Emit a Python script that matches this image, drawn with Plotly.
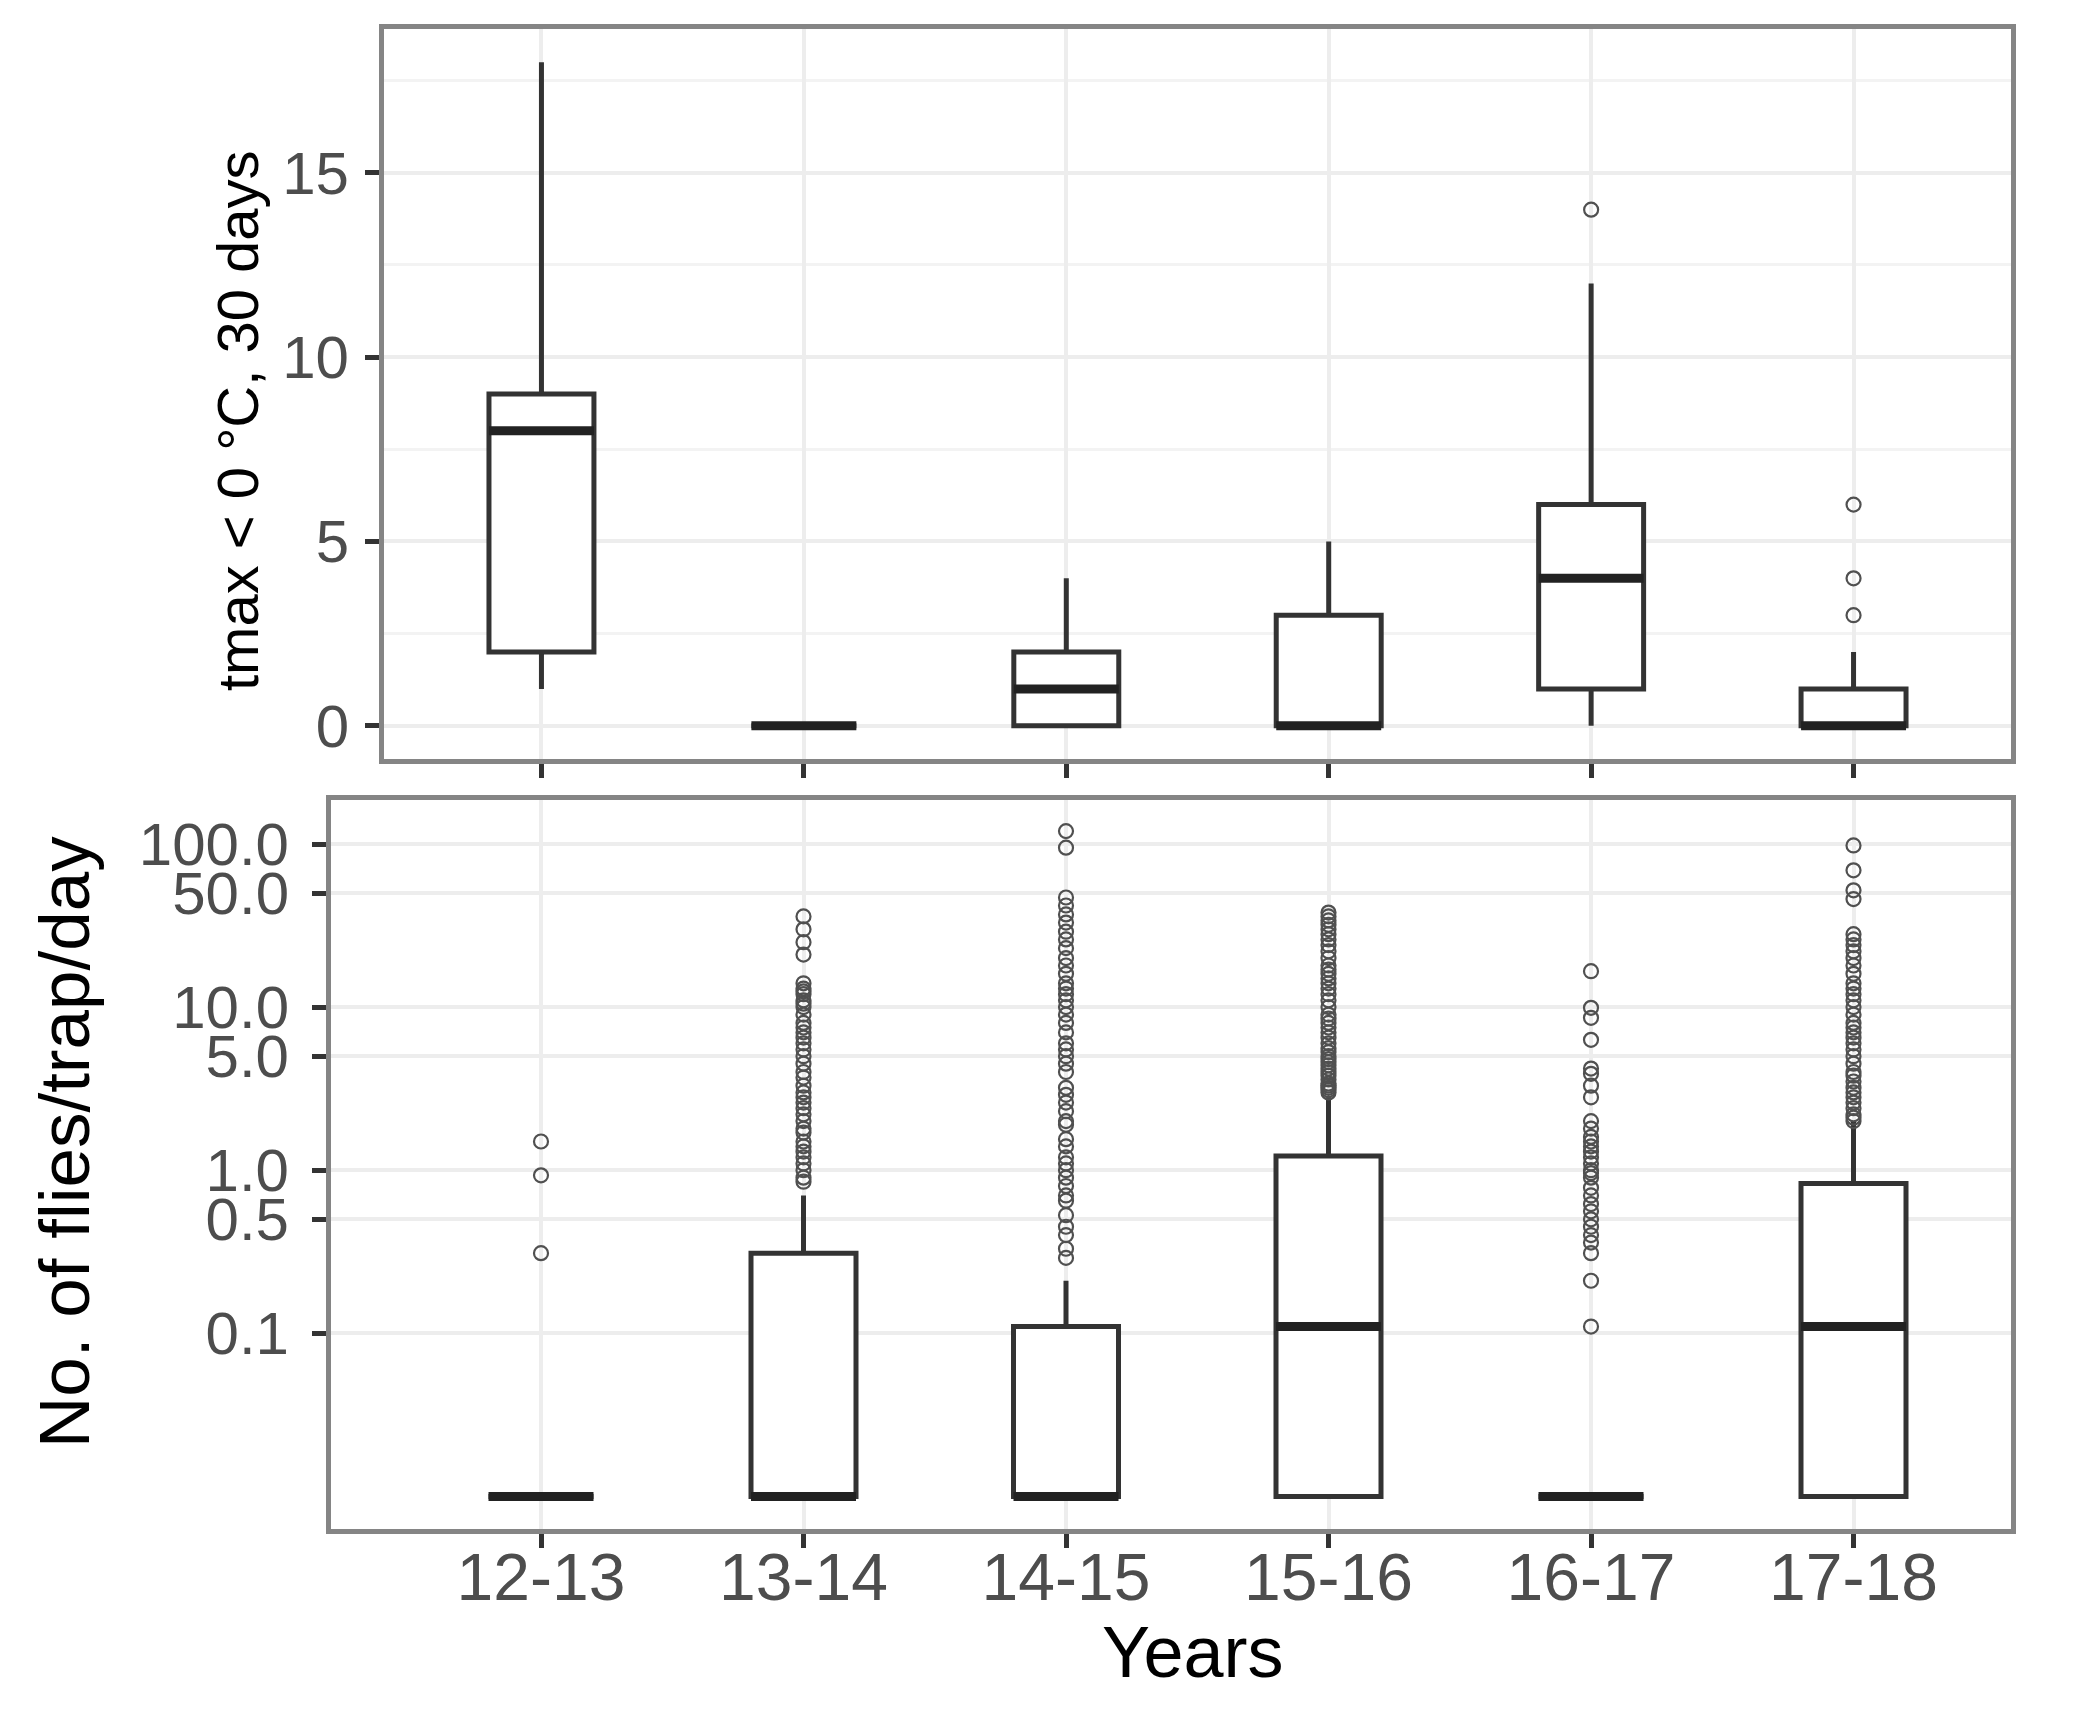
import numpy as np
import plotly.graph_objects as go

# ---------------------------------------------------------------------------
# Data
# ---------------------------------------------------------------------------
YEARS = ["12-13", "13-14", "14-15", "15-16", "16-17", "17-18"]

# top panel: number of days with tmax < 0 °C in 30 days
TMAX_LOWER = [1, 0, 0, 0, 0, 0]
TMAX_Q1 = [2, 0, 0, 0, 1, 0]
TMAX_MEDIAN = [8, 0, 1, 0, 4, 0]
TMAX_Q3 = [9, 0, 2, 3, 6, 1]
TMAX_UPPER = [18, 0, 4, 5, 12, 2]
TMAX_OUT_1617 = [14]
TMAX_OUT_1718 = [3, 4, 6]

# bottom panel: flies/trap/day (log scale, zeros drawn at the floor)
FLIES_LOWER = [0, 0, 0, 0, 0, 0]
FLIES_Q1 = [0, 0, 0, 0, 0, 0]
FLIES_MEDIAN = [0, 0, 0, 0.11, 0, 0.11]
FLIES_Q3 = [0, 0.31, 0.11, 1.22, 0, 0.83]
FLIES_UPPER = [0, 0.7, 0.21, 2.8, 0, 2.0]

FLIES_OUT_1213 = [0.31, 0.93, 1.5]
FLIES_OUT_1314 = [0.85, 0.9, 1.0, 1.1, 1.2, 1.3, 1.4, 1.5, 1.7, 1.8, 2.0, 2.2,
                  2.4, 2.6, 2.8, 3.0, 3.3, 3.7, 4.0, 4.5, 5.0, 5.5, 6.0, 6.5,
                  7.0, 7.5, 8.0, 9.0, 10.0, 10.5, 11.0, 12.0, 12.5, 13.0, 14.0,
                  21.0, 25.0, 30.0, 36.0]
FLIES_OUT_1415 = [0.29, 0.33, 0.4, 0.45, 0.53, 0.65, 0.7, 0.8, 0.9, 1.0, 1.1,
                  1.2, 1.4, 1.55, 1.9, 2.0, 2.3, 2.6, 2.9, 3.2, 4.0, 4.5, 5.0,
                  5.5, 6.0, 7.0, 8.0, 9.0, 10.0, 11.0, 12.0, 13.0, 14.0, 16.0,
                  18.0, 20.0, 23.0, 26.0, 29.0, 33.0, 37.0, 42.0, 47.0, 95.0,
                  120.0]
FLIES_OUT_1516 = [3.0, 3.1, 3.2, 3.3, 3.4, 3.6, 3.8, 4.0, 4.2, 4.4, 4.6, 4.8,
                  5.0, 5.3, 5.6, 6.0, 6.5, 7.0, 7.5, 8.0, 8.5, 9.0, 10.0, 11.0,
                  12.0, 13.0, 14.0, 15.0, 16.0, 17.0, 18.0, 20.0, 22.0, 24.0,
                  26.0, 28.0, 30.0, 32.0, 34.0, 36.0, 38.0]
FLIES_OUT_1617 = [0.11, 0.21, 0.31, 0.36, 0.4, 0.45, 0.5, 0.56, 0.62, 0.7,
                  0.78, 0.9, 0.96, 1.0, 1.1, 1.2, 1.3, 1.4, 1.5, 1.6, 1.8, 2.0,
                  2.8, 3.3, 3.9, 4.2, 6.3, 8.6, 9.9, 16.6]
FLIES_OUT_1718 = [2.0, 2.1, 2.2, 2.4, 2.6, 2.8, 3.0, 3.2, 3.5, 3.8, 4.0, 4.5,
                  5.0, 5.5, 6.0, 6.5, 7.0, 7.5, 8.0, 9.0, 10.0, 11.0, 12.0,
                  13.0, 14.0, 16.0, 18.0, 20.0, 22.0, 24.0, 26.0, 28.0, 46.0,
                  52.0, 69.0, 98.0]

FLIES_TICKS = [0.1, 0.5, 1, 5, 10, 50, 100]
FLIES_TICKTEXT = ["0.1", "0.5", "1.0", "5.0", "10.0", "50.0", "100.0"]
LOG_FLOOR = 0.01  # where zero counts sit on the log axis

# ---------------------------------------------------------------------------
W, H = 2092, 1714
FONT = "Liberation Sans, Arial, sans-serif"
BOX_W = 0.40
LINE_COL = "#333333"
GRID_COL = "#EDEDED"
POS = np.arange(len(YEARS))


def floor_log(values):
    return np.maximum(np.asarray(values, dtype=float), LOG_FLOOR)


def box_trace(q1, med, q3, lo, hi, xaxis, yaxis):
    return go.Box(
        x=POS, q1=q1, median=med, q3=q3, lowerfence=lo, upperfence=hi,
        width=BOX_W, boxpoints=False, whiskerwidth=0,
        fillcolor="white", line=dict(color=LINE_COL, width=5),
        xaxis=xaxis, yaxis=yaxis, showlegend=False, hoverinfo="skip")


def median_trace(med, xaxis, yaxis):
    xs, ys = [], []
    for p, m in zip(POS, med):
        xs += [p - BOX_W / 2, p + BOX_W / 2, None]
        ys += [m, m, None]
    return go.Scatter(x=xs, y=ys, mode="lines",
                      line=dict(color="#222222", width=9),
                      xaxis=xaxis, yaxis=yaxis, showlegend=False,
                      hoverinfo="skip")


def outlier_trace(groups, xaxis, yaxis):
    xs, ys = [], []
    for p, vals in groups:
        xs += [p] * len(vals)
        ys += list(vals)
    return go.Scatter(x=xs, y=ys, mode="markers",
                      marker=dict(symbol="circle-open", size=14,
                                  color="#505050", line=dict(width=2.2)),
                      xaxis=xaxis, yaxis=yaxis, showlegend=False,
                      hoverinfo="skip")


fig = go.Figure()

# Top panel
fig.add_trace(box_trace(TMAX_Q1, TMAX_MEDIAN, TMAX_Q3, TMAX_LOWER, TMAX_UPPER,
                        "x", "y"))
fig.add_trace(median_trace(TMAX_MEDIAN, "x", "y"))
fig.add_trace(outlier_trace([(4, TMAX_OUT_1617), (5, TMAX_OUT_1718)],
                            "x", "y"))

# Bottom panel
fig.add_trace(box_trace(floor_log(FLIES_Q1), floor_log(FLIES_MEDIAN),
                        floor_log(FLIES_Q3), floor_log(FLIES_LOWER),
                        floor_log(FLIES_UPPER), "x2", "y2"))
fig.add_trace(median_trace(floor_log(FLIES_MEDIAN), "x2", "y2"))
fig.add_trace(outlier_trace([(0, FLIES_OUT_1213), (1, FLIES_OUT_1314),
                             (2, FLIES_OUT_1415), (3, FLIES_OUT_1516),
                             (4, FLIES_OUT_1617), (5, FLIES_OUT_1718)],
                            "x2", "y2"))

axis_common = dict(
    showline=True, linecolor="#858585", linewidth=5, mirror=True,
    ticks="outside", ticklen=14, tickwidth=4.5, tickcolor=LINE_COL,
    showgrid=True, gridcolor=GRID_COL, gridwidth=4, zeroline=False,
    tickfont=dict(family=FONT, size=60, color="#4D4D4D"),
)

top_y0, top_y1 = 1 - 759 / H, 1 - 29 / H
bot_y0, bot_y1 = 1 - 1529 / H, 1 - 800 / H

fig.update_layout(
    width=W, height=H,
    margin=dict(l=0, r=0, t=0, b=0),
    paper_bgcolor="white", plot_bgcolor="white",
    font=dict(family=FONT),
    xaxis=dict(axis_common, domain=[384 / W, 2011 / W], anchor="y",
               range=[-0.6, 5.6], tickvals=list(POS),
               showticklabels=False),
    yaxis=dict(axis_common, domain=[top_y0, top_y1], anchor="x",
               range=[-0.9, 18.9], tickvals=[0, 5, 10, 15],
               ticklabelstandoff=4,
               minor=dict(tickvals=[2.5, 7.5, 12.5, 17.5], showgrid=True,
                          gridcolor="#F3F3F3", gridwidth=3, ticks="")),
    xaxis2=dict(axis_common, domain=[331 / W, 2011 / W], anchor="y2",
                range=[-0.8, 5.6], tickvals=list(POS), ticktext=YEARS,
                ticklabelstandoff=-27,
                tickfont=dict(family=FONT, size=66, color="#4D4D4D")),
    yaxis2=dict(axis_common, domain=[bot_y0, bot_y1], anchor="x2",
                type="log", range=[-2.2, 2.27],
                tickvals=FLIES_TICKS, ticktext=FLIES_TICKTEXT,
                ticklabelstandoff=11),
    annotations=[
        dict(text="tmax < 0 °C, 30 days", x=238 / W, y=1 - 421 / H,
             xref="paper", yref="paper", showarrow=False, textangle=-90,
             xanchor="center", yanchor="middle",
             font=dict(family=FONT, size=58, color="black")),
        dict(text="No. of flies/trap/day", x=64 / W, y=1 - 1142 / H,
             xref="paper", yref="paper", showarrow=False, textangle=-90,
             xanchor="center", yanchor="middle",
             font=dict(family=FONT, size=71, color="black")),
        dict(text="Years", x=1192 / W, y=1 - 1652 / H,
             xref="paper", yref="paper", showarrow=False,
             xanchor="center", yanchor="middle",
             font=dict(family=FONT, size=72, color="black")),
    ],
)

# drop the browser's default page margin so the figure sits at (0, 0)
fig.write_html("out.html", config={"displayModeBar": False},
               post_script="document.body.style.margin = '0px';")
